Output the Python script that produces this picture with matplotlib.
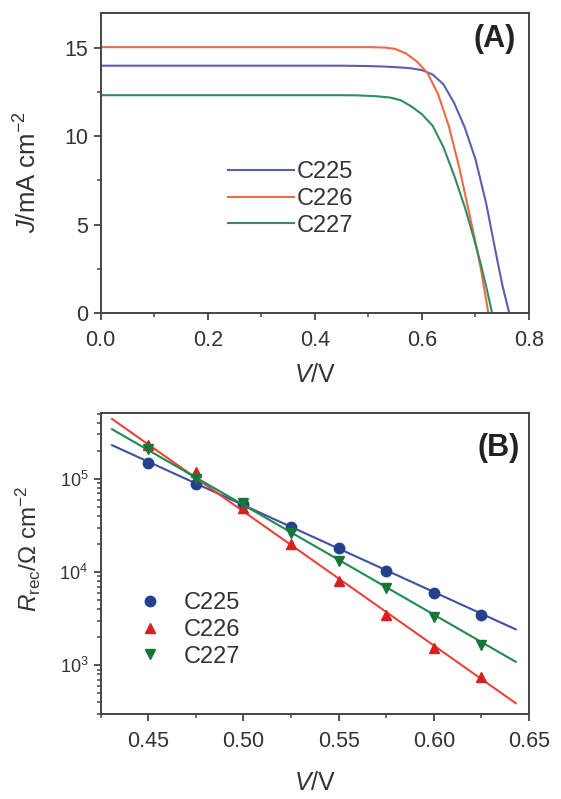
import numpy as np
import matplotlib
matplotlib.use('Agg')
import matplotlib.pyplot as plt
from matplotlib.ticker import MultipleLocator, LogLocator, NullFormatter

plt.rcParams['font.family'] = ['Liberation Sans', 'DejaVu Sans']
plt.rcParams['mathtext.fontset'] = 'custom'
plt.rcParams['mathtext.rm'] = 'Liberation Sans'
plt.rcParams['mathtext.it'] = 'Liberation Sans:italic'
plt.rcParams['mathtext.bf'] = 'Liberation Sans:bold'

# ---- panel A: J-V curves
v_c225 = [0.0, 0.1, 0.2, 0.3, 0.4, 0.45, 0.5, 0.53, 0.56, 0.58, 0.6, 0.62, 0.64,
          0.66, 0.68, 0.70, 0.72, 0.74, 0.75, 0.763]
j_c225 = [14.0, 14.0, 14.0, 14.0, 14.0, 14.0, 13.98, 13.95, 13.9, 13.85, 13.75, 13.5,
          12.95, 11.9, 10.5, 8.7, 6.2, 3.1, 1.6, 0.0]

v_c226 = [0.0, 0.1, 0.2, 0.3, 0.4, 0.45, 0.5, 0.53, 0.55, 0.57, 0.59, 0.61, 0.63,
          0.65, 0.67, 0.69, 0.70, 0.71, 0.724]
j_c226 = [15.05, 15.05, 15.05, 15.05, 15.05, 15.05, 15.05, 15.03, 14.95, 14.7, 14.25,
          13.6, 12.4, 10.6, 8.2, 5.4, 4.0, 2.5, 0.0]

v_c227 = [0.0, 0.1, 0.2, 0.3, 0.4, 0.45, 0.48, 0.51, 0.54, 0.56, 0.58, 0.60, 0.62,
          0.64, 0.66, 0.68, 0.70, 0.71, 0.72, 0.731]
j_c227 = [12.33, 12.33, 12.33, 12.33, 12.33, 12.33, 12.32, 12.28, 12.2, 12.05, 11.7,
          11.25, 10.6, 9.4, 7.8, 6.0, 3.9, 2.75, 1.5, 0.0]

# ---- panel B: recombination resistance
v_rec = [0.45, 0.475, 0.50, 0.525, 0.55, 0.575, 0.60, 0.625]
r_c225 = [1.49e5, 8.8e4, 5.4e4, 3.08e4, 1.83e4, 1.04e4, 5.98e3, 3.43e3]
r_c226 = [2.3e5, 1.2e5, 4.9e4, 2.0e4, 8.0e3, 3.5e3, 1.55e3, 740]
r_c227 = [2.1e5, 1.0e5, 5.5e4, 2.6e4, 1.32e4, 6.8e3, 3.3e3, 1.63e3]

# fitted lines (end points)
fit_v = [0.431, 0.643]
fit_c225 = [2.3e5, 2.43e3]
fit_c226 = [4.4e5, 392]
fit_c227 = [3.41e5, 1.09e3]

labels = ['C225', 'C226', 'C227']
line_cols = ['#5a5fb0', '#ee6a45', '#2f8f5c']
fit_cols = ['#3f51a6', '#e8453a', '#1f8a50']
mark_cols = ['#24408f', '#d42222', '#17773a']
markers = ['o', '^', 'v']

txt = '#333333'
axc = '#444444'

fig = plt.figure(figsize=(5.61, 7.99), dpi=100)
axA = fig.add_axes([0.1795, 0.6083, 0.7635, 0.3758])
axB = fig.add_axes([0.1795, 0.1064, 0.7635, 0.3767])

for ax in (axA, axB):
    for s in ax.spines.values():
        s.set_linewidth(1.4)
        s.set_color(axc)
    ax.tick_params(which='major', direction='out', length=5, width=1.3, color=axc,
                   labelsize=15.5, labelcolor=txt)
    ax.tick_params(which='minor', direction='out', length=3, width=1.1, color=axc)
    ax.tick_params(axis='x', pad=7)
    ax.tick_params(axis='y', pad=4)

# panel A
for v, j, c, lab in zip([v_c225, v_c226, v_c227], [j_c225, j_c226, j_c227], line_cols, labels):
    axA.plot(v, j, color=c, lw=1.5, label=lab)
axA.set_xlim(0, 0.8)
axA.set_ylim(0, 17)
axA.xaxis.set_major_locator(MultipleLocator(0.2))
axA.xaxis.set_minor_locator(MultipleLocator(0.1))
axA.yaxis.set_major_locator(MultipleLocator(5))
axA.yaxis.set_minor_locator(MultipleLocator(2.5))
axA.xaxis.set_major_formatter(plt.FormatStrFormatter('%.1f'))
axA.set_xlabel('$V$/V', fontsize=18, color=txt)
axA.xaxis.set_label_coords(0.5, -0.167)
axA.set_ylabel('$J$/mA cm$^{-2}$', fontsize=18.5, color=txt)
axA.yaxis.set_label_coords(-0.137, 0.47)
axA.text(0.92, 0.913, '(A)', transform=axA.transAxes, fontsize=22, fontweight='bold',
         color='#222222', ha='center', va='center')
axA.legend(loc='center left', bbox_to_anchor=(0.297, 0.38), frameon=False, fontsize=17,
           handlelength=2.8, handletextpad=0.1, labelspacing=0.2, borderpad=0,
           borderaxespad=0, labelcolor=txt)

# panel B
for r, fr, mc, fc, m, lab in zip([r_c225, r_c226, r_c227], [fit_c225, fit_c226, fit_c227],
                                 mark_cols, fit_cols, markers, labels):
    axB.plot(fit_v, fr, color=fc, lw=1.5)
    axB.plot(v_rec, r, ls='none', marker=m, ms=7.5, color=mc, label=lab)
axB.set_yscale('log')
axB.set_xlim(0.425, 0.65)
axB.set_ylim(300, 5.1e5)
axB.xaxis.set_major_locator(MultipleLocator(0.05))
axB.xaxis.set_minor_locator(MultipleLocator(0.025))
axB.xaxis.set_major_formatter(plt.FormatStrFormatter('%.2f'))
axB.yaxis.set_major_locator(LogLocator(base=10, numticks=10))
axB.yaxis.set_minor_locator(LogLocator(base=10, subs=np.arange(2, 10), numticks=10))
axB.yaxis.set_minor_formatter(NullFormatter())
axB.tick_params(axis='y', which='major', labelsize=13)
axB.set_xlabel('$V$/V', fontsize=18, color=txt)
axB.xaxis.set_label_coords(0.5, -0.188)
axB.set_ylabel('$R_{\\mathrm{rec}}$/\u03a9 cm$^{-2}$', fontsize=17.5, color=txt)
axB.yaxis.set_label_coords(-0.134, 0.55)
axB.text(0.93, 0.885, '(B)', transform=axB.transAxes, fontsize=22, fontweight='bold',
         color='#222222', ha='center', va='center')
axB.legend(loc='center left', bbox_to_anchor=(0.072, 0.279), frameon=False, fontsize=17,
           handlelength=1.6, handletextpad=0.6, labelspacing=0.2, borderpad=0,
           borderaxespad=0, labelcolor=txt, numpoints=1)

plt.savefig('out.png', dpi=100)
